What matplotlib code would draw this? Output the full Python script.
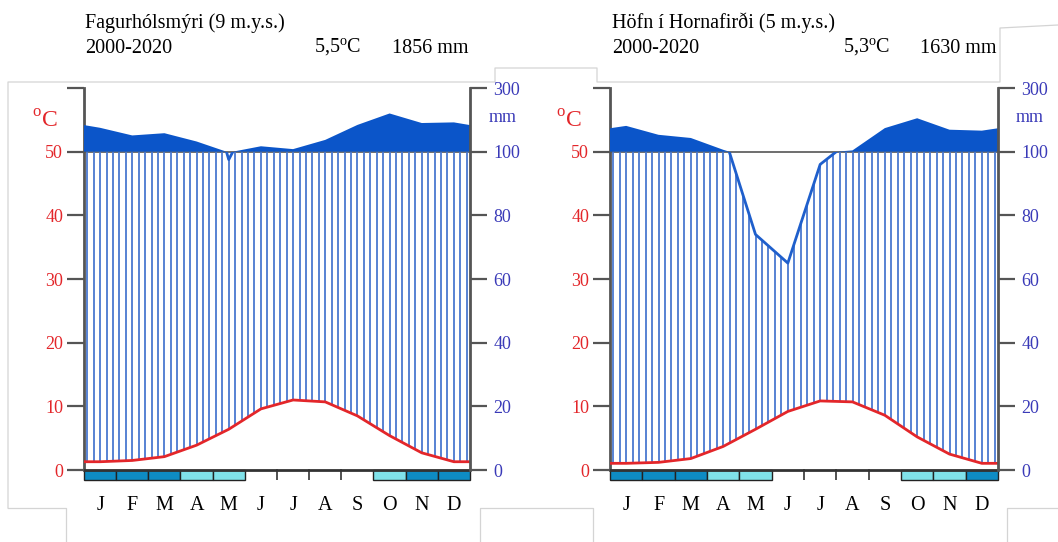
import numpy as np
import matplotlib.pyplot as plt
from matplotlib.patches import Rectangle
from matplotlib.lines import Line2D

plt.rcParams['font.family'] = 'Liberation Serif'
plt.rcParams['mathtext.fontset'] = 'custom'
plt.rcParams['mathtext.rm'] = 'Liberation Serif'

# Monthly normals 2000-2020
months = ['J', 'F', 'M', 'A', 'M', 'J', 'J', 'A', 'S', 'O', 'N', 'D']

fag_title = 'Fagurhólsmýri (9 m.y.s.)'
fag_period = '2000-2020'
fag_tmean = '5,5'
fag_psum = '1856 mm'
fag_temp = [1.3, 1.5, 2.1, 3.9, 6.4, 9.6, 11.0, 10.7, 8.5, 5.4, 2.7, 1.3]
fag_prec = [175, 151, 158, 132, 97.5, 117, 108, 137, 184, 220, 190, 192]
fag_frost = [2, 2, 2, 1, 1, 0, 0, 0, 0, 1, 2, 2]   # 2 = frost, 1 = possible frost

hof_title = 'Höfn í Hornafirði (5 m.y.s.)'
hof_period = '2000-2020'
hof_tmean = '5,3'
hof_psum = '1630 mm'
hof_temp = [1.05, 1.2, 1.8, 3.7, 6.4, 9.2, 10.85, 10.7, 8.6, 5.2, 2.5, 1.05]
hof_prec = [181, 153, 143, 106, 74, 65, 96, 104, 174, 205, 169, 166]
hof_frost = [2, 2, 2, 1, 1, 0, 0, 0, 0, 1, 1, 2]

temp_ticks = [0, 10, 20, 30, 40, 50, 60]
temp_labels = ['0', '10', '20', '30', '40', '50', '']
prec_labels = ['0', '20', '40', '60', '80', '100', '300']

RED = '#e3262a'
BLUE_TXT = '#3a3ab8'
DARK = '#555555'
bar_cols = {1: '#80e2ea', 2: '#0e8cc4'}

W, H = 1058, 542
fig = plt.figure(figsize=(W / 100, H / 100), dpi=100)


def px(x, y):
    return x / W, 1 - y / H


def wrap(v):
    v = np.asarray(v, float)
    e = (v[0] + v[-1]) / 2
    return np.r_[e, v, e]


xs = np.r_[0, np.arange(12) + 0.5, 12]


def panel(left, width, temp, prec, frost):
    bottom = 1 - 480.2 / H
    top = 1 - 88 / H
    ax = fig.add_axes([left / W, bottom, width / W, top - bottom])
    ax.set_xlim(0, 12)
    ax.set_ylim(-1.6, 60)
    ax.patch.set_alpha(0)

    t = wrap(temp)
    p = wrap(prec)
    low = p / 2                 # up to 100 mm: 2 mm per degree
    high = 50 + (p - 100) / 20  # above 100 mm: 20 mm per degree

    # humid period hatching
    hx = np.arange(0.1, 12, 0.2)
    ht = np.interp(hx, xs, t)
    hp = np.minimum(np.interp(hx, xs, low), 50)
    m = hp > ht
    ax.vlines(hx[m], ht[m], hp[m], color='#4a78d0', lw=1.3, zorder=2)

    ax.axhline(50, color=DARK, lw=1.2, zorder=1)
    ax.fill_between(xs, 50, high, where=high >= 50, interpolate=True,
                    color='#0b55c9', lw=0, zorder=3)
    ln, = ax.plot(xs, low, color='#1f5fcc', lw=2, zorder=2.5)
    ln.set_clip_path(Rectangle((0, -2), 12, 52, transform=ax.transData))
    ax.plot(xs, t, color=RED, lw=2, zorder=4)

    # frost bars under the axis
    for i, f in enumerate(frost):
        if f:
            ax.add_patch(Rectangle((i, -1.5), 1, 1.5, fc=bar_cols[f], ec='#222222',
                                   lw=1, zorder=3, clip_on=False))
        elif i > 0 and frost[i - 1] == 0:
            ax.plot([i, i], [0, -1.5], color='#333333', lw=1.2, zorder=3)
    ax.axhline(0, color='#333333', lw=2, zorder=5)

    for i, mth in enumerate(months):
        ax.text(i + 0.5, -5.6, mth, ha='center', va='center', fontsize=14.5)

    for s in ['top', 'bottom', 'right']:
        ax.spines[s].set_visible(False)
    ax.spines['left'].set_bounds(0, 60)
    ax.spines['left'].set_color(DARK)
    ax.spines['left'].set_linewidth(2)
    ax.set_xticks([])
    ax.set_yticks(temp_ticks, temp_labels)
    ax.tick_params(axis='y', length=12, width=1.6, color=DARK, labelcolor=RED,
                   labelsize=13, pad=3)

    ax2 = ax.twinx()
    ax2.set_ylim(-1.6, 60)
    for s in ['top', 'bottom', 'left']:
        ax2.spines[s].set_visible(False)
    ax2.spines['right'].set_bounds(0, 60)
    ax2.spines['right'].set_color(DARK)
    ax2.spines['right'].set_linewidth(2)
    ax2.set_yticks(temp_ticks, prec_labels)
    ax2.tick_params(axis='y', length=12, width=1.6, color=DARK, labelcolor=BLUE_TXT,
                    labelsize=13, pad=5)
    return ax


def header(x0, x_right, title, period, tmean, psum):
    fig.text(*px(x0, 28), title, fontsize=14.5, va='baseline')
    fig.text(*px(x0, 53), period, fontsize=14.5, va='baseline')
    fig.text(*px(x_right, 53), psum, fontsize=14.5, va='baseline', ha='right')
    fig.text(*px(x_right - 107, 53), tmean + r'$^{\mathrm{o}}$C', fontsize=14.5,
             va='baseline', ha='right')


def units(xc, xm):
    fig.text(*px(xc, 112), 'o', color=RED, fontsize=12, va='center', ha='left')
    fig.text(*px(xc + 10, 120), 'C', color=RED, fontsize=17, va='center', ha='left')
    fig.text(*px(xm, 117), 'mm', color=BLUE_TXT, fontsize=13, va='center', ha='left')


panel(84, 386, fag_temp, fag_prec, fag_frost)
panel(610, 388, hof_temp, hof_prec, hof_frost)
header(85, 468, fag_title, fag_period, fag_tmean, fag_psum)
header(612, 997, hof_title, hof_period, hof_tmean, hof_psum)
units(32, 489)
units(556, 1016)

# paper edges behind the diagrams
edges = [
    [(8, 508), (8, 82), (495, 82), (495, 68), (597, 68), (597, 82), (1000, 82),
     (1000, 28), (1058, 25)],
    [(8, 508), (66, 508), (66, 542)],
    [(480, 542), (480, 508), (593, 508), (593, 542)],
    [(1007, 542), (1007, 508), (1058, 508)],
]
for pts in edges:
    fx, fy = zip(*[px(x, y) for x, y in pts])
    fig.add_artist(Line2D(fx, fy, transform=fig.transFigure, color='#d4d4d4',
                          lw=0.9, zorder=0))

fig.savefig('out.png', dpi=100)
